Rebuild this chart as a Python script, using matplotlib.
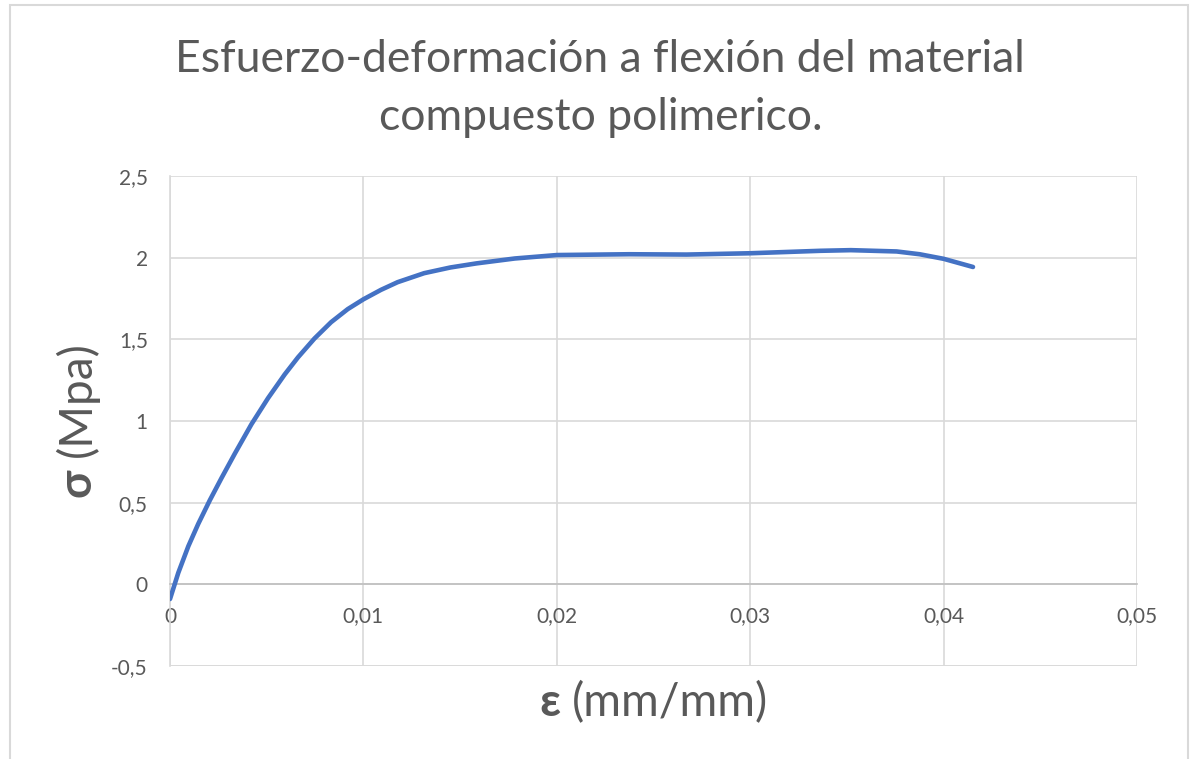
import matplotlib.pyplot as plt
from matplotlib.patches import Rectangle

# strain (mm/mm) and stress (MPa)
strain = [0.0, 0.00043, 0.00095, 0.00146, 0.00206, 0.00266, 0.00335, 0.00421,
          0.00507, 0.00593, 0.00662, 0.00747, 0.00833, 0.00919, 0.0100, 0.01091,
          0.01177, 0.01314, 0.0145, 0.01585, 0.01783, 0.0200, 0.02375, 0.02671,
          0.0300, 0.03362, 0.0352, 0.03757, 0.03876, 0.0400, 0.04152]
stress = [-0.09, 0.071, 0.234, 0.370, 0.515, 0.650, 0.800, 0.980,
          1.140, 1.285, 1.390, 1.505, 1.605, 1.685, 1.745, 1.803,
          1.850, 1.905, 1.940, 1.965, 1.995, 2.016, 2.021, 2.019,
          2.027, 2.042, 2.046, 2.038, 2.021, 1.993, 1.943]

xticks = [0, 0.01, 0.02, 0.03, 0.04, 0.05]
xtick_labels = ["0", "0,01", "0,02", "0,03", "0,04", "0,05"]
yticks = [-0.5, 0, 0.5, 1, 1.5, 2, 2.5]
ytick_labels = ["-0,5", "0", "0,5", "1", "1,5", "2", "2,5"]

title_lines = ["Esfuerzo-deformación a flexión del material",
               "compuesto polimerico."]

txt = "#595959"
grid = "#d9d9d9"
plt.rcParams['font.family'] = ['Lato', 'DejaVu Sans']

W, H = 1193, 759
fig = plt.figure(figsize=(W / 100, H / 100), dpi=100)
fig.patches.append(Rectangle((10 / W, -0.01), 1178 / W, 1 - 5 / H + 0.01,
                             transform=fig.transFigure, fill=False,
                             edgecolor="#d9d9d9", linewidth=1.5))

ax = fig.add_axes([170 / W, 1 - 666 / H, 967 / W, 490 / H])
ax.plot(strain, stress, color="#4472C4", linewidth=3.3,
        solid_capstyle="round", solid_joinstyle="round", zorder=3)

ax.set_xlim(0, 0.05)
ax.set_ylim(-0.5, 2.5)
ax.set_xticks(xticks)
ax.set_xticklabels(xtick_labels)
ax.set_yticks(yticks)
ax.set_yticklabels(ytick_labels)
ax.grid(True, color=grid, linewidth=1.2)
ax.set_axisbelow(True)

for s in ["top", "right"]:
    ax.spines[s].set_visible(False)
ax.spines["bottom"].set_position(("data", 0))
ax.spines["bottom"].set_color("#bfbfbf")
ax.spines["left"].set_color("#d9d9d9")
ax.spines["bottom"].set_linewidth(1.2)
ax.spines["left"].set_linewidth(1.2)
ax.tick_params(length=0, labelsize=15, colors=txt)
ax.tick_params(axis="x", pad=16)
ax.tick_params(axis="y", pad=16)
ax.axhline(-0.5, color=grid, linewidth=1.2, zorder=0)

fig.text(600 / W, 1 - 72 / H, title_lines[0], ha="center", va="baseline",
         fontsize=32, color=txt)
fig.text(601 / W, 1 - 130 / H, title_lines[1], ha="center", va="baseline",
         fontsize=32, color=txt)

# axis titles with bold greek letter
fig.text(560 / W, 1 - 703 / H, "ε", ha="right", va="center",
         fontsize=33, color=txt, fontweight="bold")
fig.text(572 / W, 1 - 703 / H, "(mm/mm)", ha="left", va="center",
         fontsize=33, color=txt)
fig.text(77 / W, 1 - 497 / H, "σ", ha="center", va="bottom",
         fontsize=33, color=txt, fontweight="bold", rotation=90)
fig.text(77 / W, 1 - 457 / H, "(Mpa)", ha="center", va="bottom",
         fontsize=33, color=txt, rotation=90)

fig.savefig("out.png", dpi=100)
